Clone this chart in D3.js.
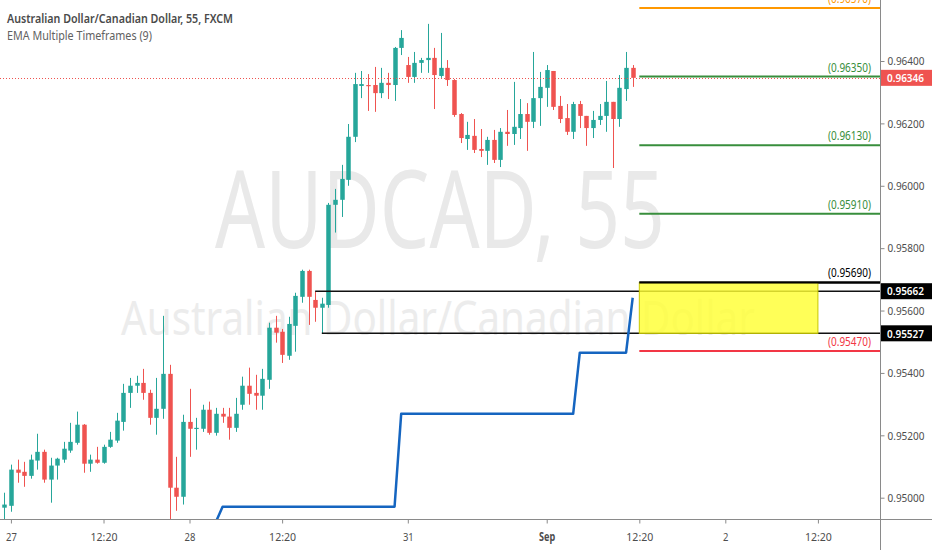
<!DOCTYPE html>
<html><head><meta charset="utf-8">
<script src="https://cdn.jsdelivr.net/npm/d3@7"></script>
<style>html,body{margin:0;padding:0;background:#fff;}svg{display:block;font-family:"Noto Sans","Open Sans",sans-serif;}</style>
</head><body><svg id="c" width="932" height="550"></svg>
<script>
// ---- data (AUDCAD 55-min, FXCM) ----
const opens = [0.94968,0.94974,0.95090,0.95083,0.95070,0.95119,0.95147,0.95058,0.95103,0.95122,0.95151,0.95176,0.95234,0.95109,0.95122,0.95112,0.95163,0.95183,0.95243,0.95336,0.95359,0.95368,0.95336,0.95256,0.95285,0.95397,0.95032,0.95003,0.95243,0.95221,0.95221,0.95282,0.95208,0.95269,0.95260,0.95224,0.95298,0.95359,0.95336,0.95327,0.95378,0.95545,0.95532,0.95455,0.95551,0.95644,0.95727,0.95634,0.95609,0.95618,0.95939,0.95955,0.96019,0.96157,0.96320,0.96323,0.96323,0.96297,0.96330,0.96323,0.96442,0.96387,0.96349,0.96394,0.96403,0.96410,0.96352,0.96378,0.96339,0.96230,0.96150,0.96160,0.96118,0.96112,0.96147,0.96083,0.96173,0.96166,0.96185,0.96230,0.96205,0.96281,0.96314,0.96368,0.96256,0.96217,0.96173,0.96262,0.96224,0.96185,0.96211,0.96224,0.96269,0.96214,0.96310,0.96378];
const highs = [0.95016,0.95106,0.95122,0.95115,0.95138,0.95205,0.95154,0.95128,0.95128,0.95179,0.95240,0.95276,0.95236,0.95138,0.95163,0.95170,0.95211,0.95272,0.95365,0.95384,0.95391,0.95413,0.95346,0.95384,0.95583,0.95426,0.95131,0.95266,0.95349,0.95256,0.95298,0.95308,0.95288,0.95288,0.95288,0.95320,0.95388,0.95417,0.95394,0.95413,0.95561,0.95583,0.95541,0.95580,0.95657,0.95731,0.95731,0.95662,0.95641,0.95945,0.95990,0.96067,0.96198,0.96362,0.96368,0.96358,0.96381,0.96378,0.96362,0.96445,0.96499,0.96413,0.96429,0.96410,0.96519,0.96442,0.96490,0.96403,0.96342,0.96233,0.96205,0.96214,0.96182,0.96157,0.96179,0.96185,0.96243,0.96333,0.96278,0.96265,0.96429,0.96365,0.96387,0.96368,0.96288,0.96262,0.96269,0.96272,0.96224,0.96240,0.96262,0.96336,0.96269,0.96355,0.96429,0.96387];
const lows = [0.94923,0.94955,0.95048,0.95035,0.95061,0.95090,0.95048,0.94984,0.95058,0.95112,0.95144,0.95170,0.95080,0.95083,0.95109,0.95109,0.95160,0.95176,0.95215,0.95288,0.95336,0.95314,0.95234,0.95202,0.95253,0.94923,0.94958,0.94978,0.95131,0.95154,0.95211,0.95202,0.95199,0.95240,0.95186,0.95211,0.95282,0.95298,0.95282,0.95282,0.95349,0.95497,0.95432,0.95442,0.95468,0.95625,0.95554,0.95564,0.95527,0.95609,0.95850,0.95900,0.96000,0.96140,0.96281,0.96240,0.96237,0.96281,0.96278,0.96272,0.96419,0.96330,0.96330,0.96362,0.96362,0.96246,0.96346,0.96320,0.96221,0.96137,0.96115,0.96105,0.96092,0.96067,0.96073,0.96060,0.96128,0.96131,0.96150,0.96112,0.96185,0.96192,0.96253,0.96243,0.96201,0.96163,0.96150,0.96185,0.96128,0.96153,0.96195,0.96173,0.96057,0.96189,0.96272,0.96317];
const closes = [0.94978,0.95090,0.95080,0.95070,0.95122,0.95147,0.95058,0.95103,0.95125,0.95157,0.95179,0.95234,0.95109,0.95122,0.95112,0.95163,0.95186,0.95247,0.95336,0.95359,0.95368,0.95336,0.95256,0.95285,0.95397,0.95032,0.95003,0.95243,0.95221,0.95224,0.95282,0.95208,0.95269,0.95260,0.95224,0.95269,0.95359,0.95333,0.95327,0.95381,0.95545,0.95529,0.95458,0.95557,0.95647,0.95727,0.95644,0.95609,0.95622,0.95939,0.95955,0.96022,0.96157,0.96326,0.96326,0.96320,0.96297,0.96330,0.96323,0.96442,0.96474,0.96349,0.96394,0.96403,0.96410,0.96355,0.96378,0.96339,0.96227,0.96153,0.96163,0.96115,0.96112,0.96147,0.96083,0.96173,0.96166,0.96189,0.96230,0.96205,0.96281,0.96317,0.96371,0.96253,0.96214,0.96173,0.96262,0.96224,0.96185,0.96211,0.96224,0.96269,0.96214,0.96314,0.96378,0.96346];

// EMA Multiple Timeframes (9): corner points of the step line (bar index, value)
const emaBars   = [32, 33, 59, 60, 86, 87, 94, 95];
const emaValues = [0.94923, 0.94971, 0.94971, 0.95269, 0.95269, 0.95465, 0.95465, 0.95641];

// price ticks
const yTicks = [0.950, 0.952, 0.954, 0.956, 0.958, 0.960, 0.962, 0.964];
// time ticks (bar index) and labels
const xTickBars   = [1, 15, 28, 42, 61, 82, 96, 109, 123];
const xTickLabels = ["27", "12:20", "28", "12:20", "31", "Sep", "12:20", "2", "12:20"];

// horizontal levels
const levelValues = [0.96570, 0.96350, 0.96130, 0.95910, 0.95690, 0.95470];
const levelStartBar = 96;

const lastPrice = 0.96346;
const zoneHigh = 0.95662, zoneHighBar = 47;
const zoneLow = 0.95527, zoneLowBar = 48;
const boxTop = 0.95690, boxBottom = 0.95527, boxStartBar = 96, boxEndBar = 123;

// ---- styles ----
const levelColors = ["#ff9800", "#388e3c", "#388e3c", "#388e3c", "#000000", "#f23645"];
const UP = "#26a69a", DOWN = "#ef5350";
const W = 932, H = 550, plotW = 880, plotH = 519;

const svg = d3.select("#c");
const x = d3.scaleLinear().domain([0, 95]).range([4.3, 632.7]);
const y = d3.scaleLinear().domain([0.950, 0.964]).range([497.7, 61]);

svg.append("rect").attr("width", W).attr("height", H).attr("fill", "#fff");
svg.append("defs").append("clipPath").attr("id", "plot")
  .append("rect").attr("x", 0).attr("y", 0).attr("width", plotW).attr("height", plotH);

const g = svg.append("g").attr("clip-path", "url(#plot)");

// watermarks (squeezed horizontally with a scale transform)
function watermark(txt, x0, base, size, width, color) {
  const t = g.append("text").text(txt).attr("x", 0).attr("y", 0)
    .attr("font-size", size).attr("fill", color);
  const len = t.node().getComputedTextLength();
  t.attr("transform", `translate(${x0},${base}) scale(${width / len},1)`);
}
watermark("AUDCAD, 55", 215, 248, 108, 450, "#e9e9e9");
watermark("Australian Dollar/Canadian Dollar", 121, 335, 47, 634, "#ececec");

// candles
const idx = d3.range(opens.length);
const bw = 4.5;
g.append("g").selectAll("line").data(idx).join("line")
  .attr("x1", i => Math.round(x(i)) + 0.5).attr("x2", i => Math.round(x(i)) + 0.5)
  .attr("y1", i => y(highs[i])).attr("y2", i => y(lows[i]))
  .attr("stroke", i => closes[i] >= opens[i] ? UP : DOWN).attr("stroke-width", 1);
g.append("g").selectAll("rect").data(idx).join("rect")
  .attr("x", i => Math.round(x(i)) + 0.5 - bw / 2)
  .attr("width", bw)
  .attr("y", i => y(Math.max(opens[i], closes[i])))
  .attr("height", i => Math.max(1.2, Math.abs(y(opens[i]) - y(closes[i]))))
  .attr("fill", i => closes[i] >= opens[i] ? UP : DOWN);

// zone high / low lines from candles
g.append("line").attr("x1", x(zoneHighBar)).attr("x2", plotW)
  .attr("y1", y(zoneHigh)).attr("y2", y(zoneHigh)).attr("stroke", "#111").attr("stroke-width", 1.5);
g.append("line").attr("x1", x(zoneLowBar)).attr("x2", plotW)
  .attr("y1", y(zoneLow)).attr("y2", y(zoneLow)).attr("stroke", "#111").attr("stroke-width", 1.5);

// current price dotted line
g.append("line").attr("x1", 0).attr("x2", plotW)
  .attr("y1", Math.round(y(lastPrice)) + 0.5).attr("y2", Math.round(y(lastPrice)) + 0.5)
  .attr("stroke", DOWN).attr("stroke-width", 1).attr("stroke-dasharray", "1,2");

// level lines
const fmt = d3.format(".5f");
levelValues.forEach((v, k) => {
  g.append("line").attr("x1", x(levelStartBar)).attr("x2", plotW)
    .attr("y1", y(v)).attr("y2", y(v)).attr("stroke", levelColors[k]).attr("stroke-width", 2);
});

// yellow box
g.append("rect").attr("x", x(boxStartBar)).attr("width", x(boxEndBar) - x(boxStartBar))
  .attr("y", y(boxTop)).attr("height", y(boxBottom) - y(boxTop))
  .attr("fill", "#ffff33").attr("fill-opacity", 0.82)
  .attr("stroke", "#c8c800").attr("stroke-width", 1);
// redraw 0.95690 line on top of box
g.append("line").attr("x1", x(levelStartBar)).attr("x2", plotW)
  .attr("y1", y(0.95690)).attr("y2", y(0.95690)).attr("stroke", "#000").attr("stroke-width", 2);

// level labels
levelValues.forEach((v, k) => {
  g.append("text").text("(" + fmt(v) + ")")
    .attr("x", 871).attr("y", y(v) - 5).attr("text-anchor", "end")
    .attr("font-size", 12).attr("textLength", 43).attr("lengthAdjust", "spacingAndGlyphs")
    .attr("fill", levelColors[k]);
});

// EMA step line
const line = d3.line().x(d => x(d[0])).y(d => y(d[1]));
g.append("path").datum(emaBars.map((b, i) => [b, emaValues[i]]))
  .attr("d", line).attr("fill", "none").attr("stroke", "#1565c0")
  .attr("stroke-width", 2.5).attr("stroke-linejoin", "round");

// axes lines
svg.append("line").attr("x1", 0).attr("x2", W).attr("y1", plotH + 0.5).attr("y2", plotH + 0.5)
  .attr("stroke", "#8a8a8a").attr("stroke-width", 1);
svg.append("line").attr("x1", plotW + 0.5).attr("x2", plotW + 0.5).attr("y1", 0).attr("y2", H)
  .attr("stroke", "#8a8a8a").attr("stroke-width", 1);

// right price axis
const yAxis = svg.append("g").attr("transform", `translate(${plotW + 0.5},0)`)
  .call(d3.axisRight(y).tickValues(yTicks).tickFormat(fmt).tickSize(4).tickPadding(3));
yAxis.select(".domain").remove();
yAxis.selectAll(".tick line").attr("stroke", "#8a8a8a");
yAxis.selectAll(".tick text").attr("fill", "#4d4d4d").attr("font-size", 11.5)
  .attr("font-family", "'Noto Sans',sans-serif")
  .attr("textLength", 37).attr("lengthAdjust", "spacingAndGlyphs");

// bottom time axis
const xAxis = svg.append("g").attr("transform", `translate(0,${plotH + 0.5})`)
  .call(d3.axisBottom(x).tickValues(xTickBars).tickFormat((d, i) => xTickLabels[i]).tickSize(4).tickPadding(9));
xAxis.select(".domain").remove();
xAxis.selectAll(".tick line").attr("stroke", "#8a8a8a");
xAxis.selectAll(".tick text").attr("fill", "#4d4d4d").attr("font-size", 11.5)
  .attr("font-family", "'Noto Sans',sans-serif")
  .attr("font-weight", (d, i) => xTickLabels[i] === "Sep" ? 700 : 400)
  .attr("textLength", (d, i) => xTickLabels[i].length * 5.4)
  .attr("lengthAdjust", "spacingAndGlyphs");

// price boxes on axis
function priceBox(v, bg) {
  const cy = y(v);
  svg.append("rect").attr("x", plotW + 1).attr("y", cy - 8).attr("width", W - plotW - 1).attr("height", 16).attr("fill", bg);
  svg.append("text").text(fmt(v)).attr("x", 887).attr("y", cy + 4.2)
    .attr("font-size", 11.5).attr("font-weight", 600).attr("fill", "#fff")
    .attr("textLength", 37).attr("lengthAdjust", "spacingAndGlyphs");
}
priceBox(lastPrice, "#ef5350");
priceBox(zoneHigh, "#000");
priceBox(zoneLow, "#000");

// header legend
svg.append("text").text("Australian Dollar/Canadian Dollar, 55, FXCM")
  .attr("x", 7).attr("y", 23).attr("font-size", 13).attr("font-weight", 600)
  .attr("fill", "#4a4a4a").attr("textLength", 226).attr("lengthAdjust", "spacingAndGlyphs");
svg.append("text").text("EMA Multiple Timeframes (9)")
  .attr("x", 7).attr("y", 39.5).attr("font-size", 13)
  .attr("fill", "#616161").attr("textLength", 145).attr("lengthAdjust", "spacingAndGlyphs");
</script></body></html>
